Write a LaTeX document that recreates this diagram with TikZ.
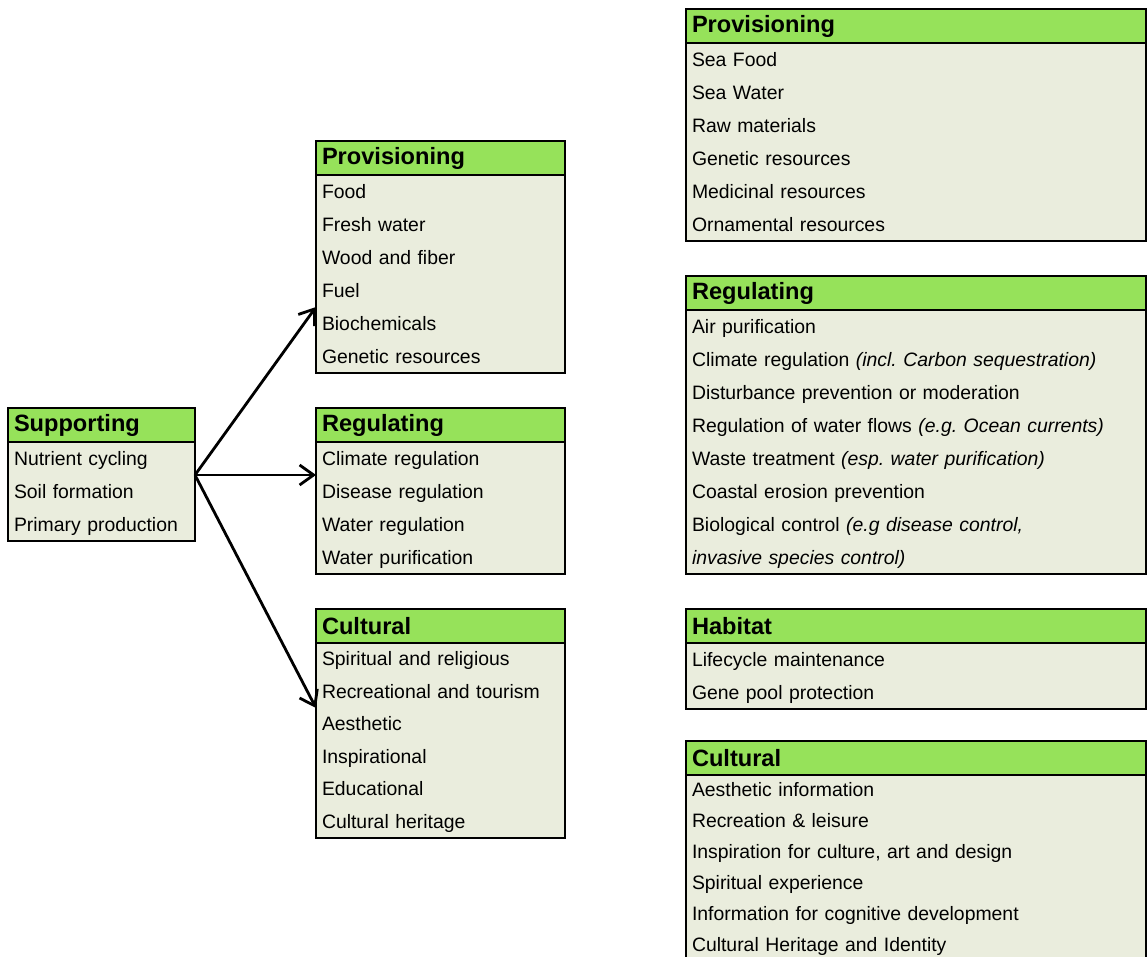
\documentclass[tikz,border=0pt]{standalone}
\usepackage{fontspec}
\setmainfont{Liberation Sans}
\usetikzlibrary{positioning,arrows.meta}
\definecolor{hdrgreen}{RGB}{150,226,90}
\definecolor{cellbg}{RGB}{234,237,221}
\tikzset{
  hdr/.style={draw, line width=1pt, fill=hdrgreen, anchor=north west, outer sep=0pt,
    inner xsep=3pt, inner ysep=0pt, minimum height=17pt, align=left,
    font=\bfseries\fontsize{11.8}{13}\selectfont},
  itemlist/.style={draw, line width=1pt, fill=cellbg, outer sep=0pt,
    inner xsep=3pt, inner ysep=0pt, align=left,
    font=\frenchspacing\fontsize{9.7}{16.5}\selectfont},
  link/.style={line width=1.4pt, -{Straight Barb[length=7pt,width=10pt]}}
}
\newcommand\rs{\rule[-0.3\baselineskip]{0pt}{\baselineskip}}

\begin{document}
\begin{tikzpicture}[x=0.5pt,y=-0.5pt]
\useasboundingbox (0,0) rectangle (1148,957);

% supporting services
\node[hdr, text width=87.5pt] (suph) at (8,408) {Supporting};
\node[itemlist, text width=87.5pt, below=0pt of suph] (supb)
  {\rs Nutrient cycling\\ \rs Soil formation\\ \rs Primary production};

% middle column
\node[hdr, text width=118.5pt] (provh) at (316,141) {Provisioning};
\node[itemlist, text width=118.5pt, below=0pt of provh] (provb)
  {\rs Food\\ \rs Fresh water\\ \rs Wood and fiber\\ \rs Fuel\\ \rs Biochemicals\\ \rs Genetic resources};

\node[hdr, text width=118.5pt] (regh) at (316,408) {Regulating};
\node[itemlist, text width=118.5pt, below=0pt of regh] (regb)
  {\rs Climate regulation\\ \rs Disease regulation\\ \rs Water regulation\\ \rs Water purification};

\node[hdr, text width=118.5pt] (culh) at (316,609) {Cultural};
\node[itemlist, text width=118.5pt, below=0pt of culh, font=\frenchspacing\fontsize{9.7}{16.25}\selectfont] (culb)
  {\rs Spiritual and religious\\ \rs Recreational and tourism\\ \rs Aesthetic\\ \rs Inspirational\\ \rs Educational\\ \rs Cultural heritage};

% right column
\node[hdr, text width=224pt] (mprovh) at (686,9) {Provisioning};
\node[itemlist, text width=224pt, below=0pt of mprovh] (mprovb)
  {\rs Sea Food\\ \rs Sea Water\\ \rs Raw materials\\ \rs Genetic resources\\ \rs Medicinal resources\\ \rs Ornamental resources};

\node[hdr, text width=224pt] (mregh) at (686,276) {Regulating};
\node[itemlist, text width=224pt, below=0pt of mregh] (mregb)
  {\rs Air purification\\
   \rs Climate regulation \textit{(incl. Carbon sequestration)}\\
   \rs Disturbance prevention or moderation\\
   \rs Regulation of water flows \textit{(e.g. Ocean currents)}\\
   \rs Waste treatment \textit{(esp. water purification)}\\
   \rs Coastal erosion prevention\\
   \rs Biological control \textit{(e.g disease control,}\\
   \rs \textit{invasive species control)}};

\node[hdr, text width=224pt] (mhabh) at (686,609) {Habitat};
\node[itemlist, text width=224pt, below=0pt of mhabh] (mhabb)
  {\rs Lifecycle maintenance\\ \rs Gene pool protection};

\node[hdr, text width=224pt] (mculh) at (686,741) {Cultural};
\node[itemlist, text width=224pt, below=0pt of mculh, font=\frenchspacing\fontsize{9.7}{15.5}\selectfont] (mculb)
  {\rs Aesthetic information\\ \rs Recreation \& leisure\\ \rs Inspiration for culture, art and design\\
   \rs Spiritual experience\\ \rs Information for cognitive development\\ \rs Cultural Heritage and Identity\\ \rs};

% links
\draw[link] ([yshift=-16.5pt]supb.north east) -- ([yshift=-66pt]provb.north west);
\draw[link] ([yshift=-16.5pt]supb.north east) -- ([yshift=-16.5pt]regb.north west);
\draw[link] ([yshift=-16.5pt]supb.north east) -- ([yshift=-32.5pt]culb.north west);
\end{tikzpicture}
\end{document}
